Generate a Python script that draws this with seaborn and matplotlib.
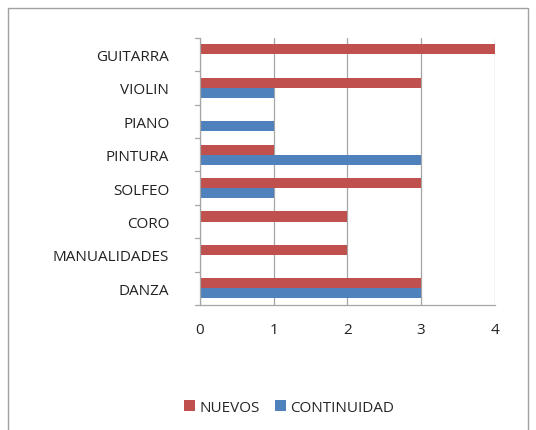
import pandas as pd
import matplotlib.pyplot as plt
import seaborn as sns
from matplotlib.patches import Rectangle

categorias = ['GUITARRA', 'VIOLIN', 'PIANO', 'PINTURA', 'SOLFEO', 'CORO', 'MANUALIDADES', 'DANZA']
nuevos = [4, 3, 0, 1, 3, 2, 2, 3]
continuidad = [0, 1, 1, 3, 1, 0, 0, 3]
series = ['NUEVOS', 'CONTINUIDAD']
colores = ['#C0504D', '#4F81BD']

tabla = pd.DataFrame({'categoria': categorias * 2,
                      'serie': ['NUEVOS'] * len(categorias) + ['CONTINUIDAD'] * len(categorias),
                      'valor': nuevos + continuidad})

sns.set_style('white')
plt.rcParams['font.family'] = ['Open Sans', 'DejaVu Sans']

fig = plt.figure(figsize=(5.36, 4.31), dpi=100)
ax = fig.add_axes([0.373, 0.29, 0.55, 0.62])

sns.barplot(data=tabla, x='valor', y='categoria', hue='serie', hue_order=series,
            palette=colores, order=categorias, orient='h', width=0.6, ax=ax,
            edgecolor='none', saturation=1, legend=True)

ax.set_xlim(0, 4)
ax.set_ylim(len(categorias) - 0.5, -0.5)
ax.set_xticks([0, 1, 2, 3, 4])
ax.set_xticklabels(['0', '1', '2', '3', '4'], fontsize=11, color='#222222')
ax.set_yticks(range(len(categorias)))
ax.set_yticklabels(categorias, fontsize=11, color='#222222')
ax.tick_params(axis='y', length=0, pad=22)
ax.tick_params(axis='x', length=0, pad=12)
ax.set_xlabel('')
ax.set_ylabel('')

ax.grid(axis='x', color='#A6A6A6', linewidth=0.9)
ax.set_axisbelow(True)
for lado in ['top', 'right']:
    ax.spines[lado].set_visible(False)
for lado in ['left', 'bottom']:
    ax.spines[lado].set_color('#A6A6A6')
    ax.spines[lado].set_linewidth(0.9)

# small marks between categories on the left axis
for k in range(len(categorias) + 1):
    ax.plot([-0.07, 0], [k - 0.5, k - 0.5], color='#A6A6A6', lw=0.9, clip_on=False)

handles, labels = ax.get_legend_handles_labels()
ax.get_legend().remove()
fig.legend(handles, labels, loc='center', bbox_to_anchor=(0.54, 0.052), ncol=2,
           frameon=False, fontsize=11, handlelength=0.7, handleheight=0.7,
           columnspacing=1.0, handletextpad=0.3)

fig.patches.append(Rectangle((0.015, -0.01), 0.97, 0.99, transform=fig.transFigure,
                             fill=False, edgecolor='#A0A0A0', linewidth=1))

fig.savefig('out.png', dpi=100)
